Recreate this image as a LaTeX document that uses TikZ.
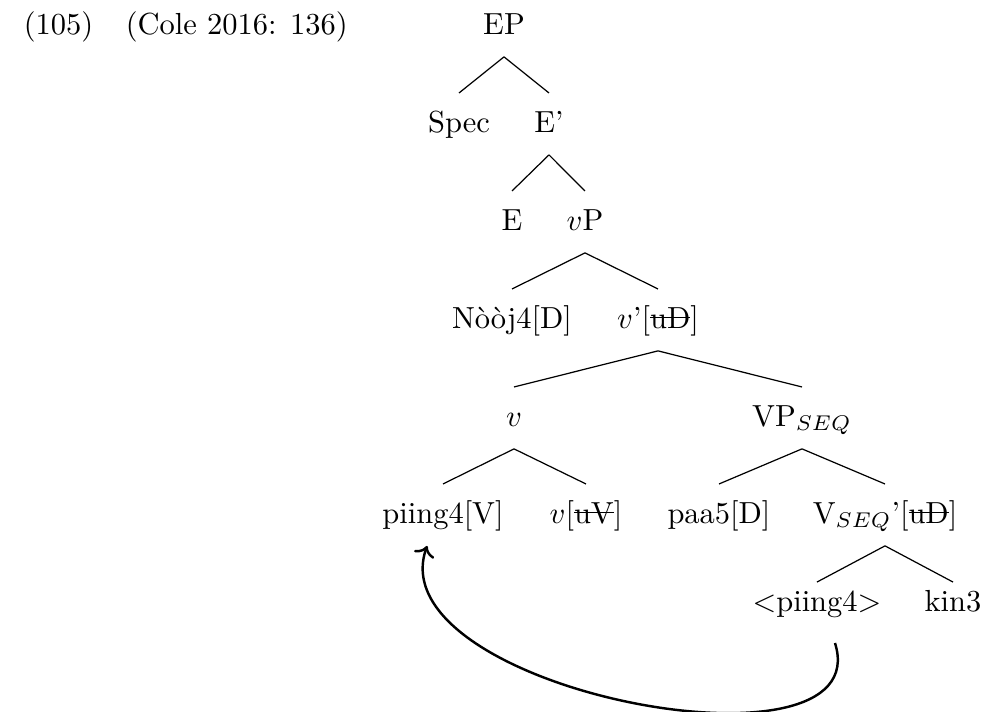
\documentclass[tikz,border=0pt]{standalone}
\usepackage{tikz}
\usetikzlibrary{arrows.meta}
\newsavebox{\strkbox}
\newcommand{\strk}[1]{\sbox{\strkbox}{#1}\rlap{\usebox{\strkbox}}\rule[3.3pt]{\wd\strkbox}{0.4pt}}

\begin{document}
\begin{tikzpicture}[x=0.328pt,y=-0.328pt]

	\tikzstyle{cat} = [anchor=base,inner sep=0pt,outer sep=0pt,text height=12.8pt,text depth=7.5pt]
	\tikzstyle{leaf} = [cat,text height=9.5pt]

	\useasboundingbox (0,0) rectangle (984,711);

	% example number and source
	\node[anchor=base west] (exno) at (13,34) {(105)};
	\node[anchor=base west] (src) at (115,34) {(Cole 2016: 136)};

	\node[cat] (EP) at (504,34) {EP};
	\node[cat] (Spec) at (459,132) {Spec};
	\node[cat] (Ebar) at (549,132) {E'};
	\node[cat] (E) at (512,230) {E};
	\node[cat] (vP) at (585,230) {$v$P};
	\node[cat] (nooj) at (512,328) {N\`o\`oj4[D]};
	\node[cat] (vbar) at (658,328) {$v$'[\strk{uD}]};
	\node[cat] (v) at (514,426) {$v$};
	\node[cat] (VPseq) at (802,426) {VP$_{SEQ}$};
	\node[cat] (piing) at (443,523) {piing4[V]};
	\node[cat] (vuV) at (586,523) {$v$[\strk{uV}]};
	\node[cat] (paa) at (719,523) {paa5[D]};
	\node[cat] (Vseq) at (885,523) {V$_{SEQ}$'[\strk{uD}]};
	\node[leaf] (trace) at (817,611) {$<$piing4$>$};
	\node[leaf] (kin) at (953,611) {kin3};

	\draw (EP.south) -- (Spec.north);
	\draw (EP.south) -- (Ebar.north);
	\draw (Ebar.south) -- (E.north);
	\draw (Ebar.south) -- (vP.north);
	\draw (vP.south) -- (nooj.north);
	\draw (vP.south) -- (vbar.north);
	\draw (vbar.south) -- (v.north);
	\draw (vbar.south) -- (VPseq.north);
	\draw (v.south) -- (piing.north);
	\draw (v.south) -- (vuV.north);
	\draw (VPseq.south) -- (paa.north);
	\draw (VPseq.south) -- (Vseq.north);
	\draw (Vseq.south) -- (trace.north);
	\draw (Vseq.south) -- (kin.north);

	% head movement
	\draw[thick,->] ([xshift=5.9pt,yshift=-3pt]trace.south) .. controls (880,785) and (375,690) .. ([xshift=-5.2pt]piing.south);
\end{tikzpicture}
\end{document}
